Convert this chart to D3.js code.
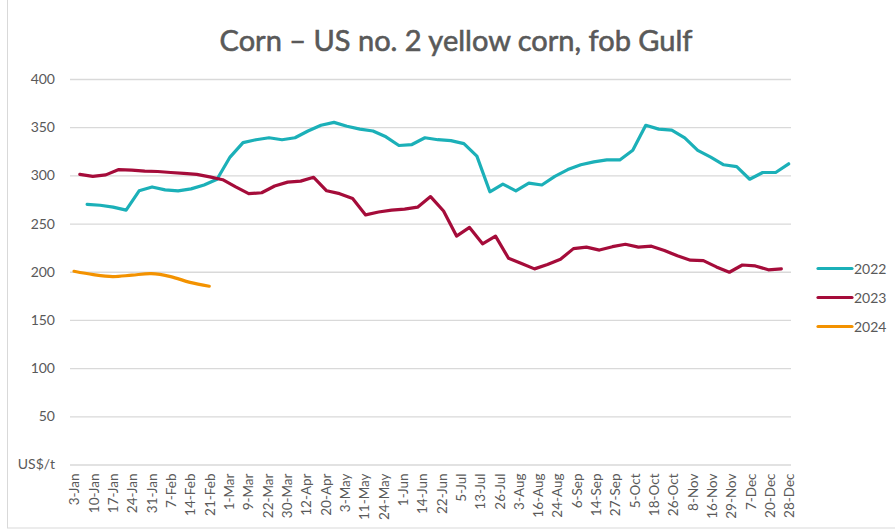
<!DOCTYPE html>
<html><head><meta charset="utf-8">
<script src="https://cdn.jsdelivr.net/npm/d3@7"></script>
<style>body{margin:0;background:#fff} svg{display:block}</style>
</head><body>
<svg id="chart" width="895" height="531"></svg>
<script>
// ---------- data ----------
const chartTitle = "Corn \u2013 US no. 2 yellow corn, fob Gulf";
const categories = ["3-Jan","10-Jan","17-Jan","24-Jan","31-Jan","7-Feb","14-Feb","21-Feb","1-Mar","9-Mar",
  "22-Mar","30-Mar","12-Apr","20-Apr","3-May","11-May","24-May","1-Jun","14-Jun","22-Jun",
  "5-Jul","13-Jul","26-Jul","3-Aug","16-Aug","24-Aug","6-Sep","14-Sep","27-Sep","5-Oct",
  "18-Oct","26-Oct","8-Nov","16-Nov","29-Nov","7-Dec","20-Dec","28-Dec"];
const yTickValues = [0, 50, 100, 150, 200, 250, 300, 350, 400];
const yUnitLabel = "US$/t";
const seriesNames = ["2022", "2023", "2024"];
// weekly quotations (US$/t)
const values2022 = [270,269,267,264,284,288,285,284,286,290,296,319,334,337,339,337,339,346,352,355,
  351,348,346,340,331,332,339,337,336,333,320,283,291,284,292,290,299,306,311,314,
  316,316,326,352,348,347,339,326,319,311,309,296,303,303,312];
const values2023 = [301,299,300.5,306,305.5,304.5,304,303,302,301,298.5,295.5,288,281,282,289,293,294,298,284,
  281,276,259,262,264,265,267,278,263,237,246,229,237,214,208.5,203,207.5,213,224,225.5,
  222.5,226,228.5,225.5,226.5,222,216.5,212,211.5,205,199.5,207,206,202,203];
const values2024 = [200.5,197,195,196.5,198,195,189,185];
// week offset of first quotation of each year
const weekStart = {"2022": 1.32, "2023": 0.755};

// ---------- layout ----------
const W = 895, H = 531;
const plot = {left: 70, right: 791, top: 79, bottom: 464.5};
const colors = {"2022": "#1BB0B8", "2023": "#A50C3A", "2024": "#F39200"};
const textColor = "#595959", gridColor = "#D9D9D9";
const font = "Lato, 'Open Sans', sans-serif";

const svg = d3.select("#chart");
svg.append("rect").attr("x",0).attr("y",0).attr("width",W).attr("height",H).attr("fill","#fff");
svg.append("rect").attr("x",7.5).attr("y",-1).attr("width",W-7).attr("height",H-2)
  .attr("fill","none").attr("stroke",gridColor).attr("stroke-width",1);

const y = d3.scaleLinear().domain([0, 400]).range([plot.bottom, plot.top]);
const xWeek = d3.scaleLinear().domain([0, 55.5]).range([plot.left, plot.right]);
const xCat = d3.scalePoint().domain(categories).range([74, 789]);

// title
svg.append("text").attr("x", 456).attr("y", 51).attr("text-anchor","middle")
  .attr("font-family", font).attr("font-size", 29).attr("font-weight", 400)
  .attr("stroke", textColor).attr("stroke-width", 0.6)
  .attr("fill", textColor).text(chartTitle);

// grid
const yAxis = d3.axisLeft(y).tickValues(yTickValues)
  .tickSize(-(plot.right - plot.left))
  .tickFormat(d => d === 0 ? yUnitLabel : d);
const gy = svg.append("g").attr("transform", `translate(${plot.left},0)`).call(yAxis);
gy.select(".domain").remove();
gy.selectAll(".tick line").attr("stroke", gridColor).attr("stroke-width", 1.3);
gy.selectAll(".tick text").attr("x", -15).attr("fill", textColor)
  .attr("font-family", font).attr("font-size", 14);

// x axis labels
const xAxis = d3.axisBottom(xCat).tickSize(0).tickPadding(0);
const gx = svg.append("g").attr("transform", `translate(0,${plot.bottom + 9})`).call(xAxis);
gx.select(".domain").remove();
gx.selectAll(".tick text")
  .attr("transform", "rotate(-90)")
  .attr("text-anchor", "end").attr("x", 0).attr("y", 0).attr("dy", "0.36em")
  .attr("fill", textColor).attr("font-family", font).attr("font-size", 13.5);

// lines
const lineWeek = (start) => d3.line().x((d, i) => xWeek(start + i)).y(d => y(d));
svg.append("path").datum(values2022).attr("d", lineWeek(weekStart["2022"]))
  .attr("fill","none").attr("stroke", colors["2022"]).attr("stroke-width", 3.2)
  .attr("stroke-linejoin","round").attr("stroke-linecap","round");
svg.append("path").datum(values2023).attr("d", lineWeek(weekStart["2023"]))
  .attr("fill","none").attr("stroke", colors["2023"]).attr("stroke-width", 3.2)
  .attr("stroke-linejoin","round").attr("stroke-linecap","round");
const line2024 = d3.line().x((d, i) => xCat(categories[i])).y(d => y(d)).curve(d3.curveCatmullRom.alpha(0.5));
svg.append("path").datum(values2024).attr("d", line2024)
  .attr("fill","none").attr("stroke", colors["2024"]).attr("stroke-width", 3.2)
  .attr("stroke-linejoin","round").attr("stroke-linecap","round");

// legend
const legend = svg.append("g");
seriesNames.forEach((name, k) => {
  const ly = 268.5 + k * 29;
  legend.append("line").attr("x1", 818).attr("x2", 852).attr("y1", ly).attr("y2", ly)
    .attr("stroke", colors[name]).attr("stroke-width", 3.2).attr("stroke-linecap","round");
  legend.append("text").attr("x", 854).attr("y", ly).attr("dy","0.36em")
    .attr("font-family", font).attr("font-size", 14).attr("fill", textColor).text(name);
});
</script>
</body></html>
